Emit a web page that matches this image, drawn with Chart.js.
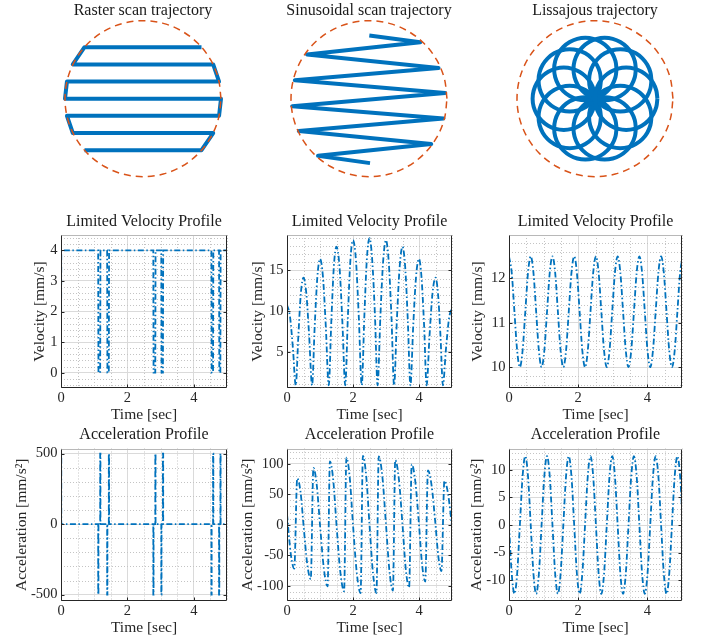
<!DOCTYPE html>
<html>
<head>
<meta charset="utf-8">
<title>Scan trajectories and motion profiles</title>
<script src="https://cdn.jsdelivr.net/npm/chart.js"></script>
<style>
  html, body { margin: 0; padding: 0; background: #fff; }
  body { width: 702px; height: 643px; position: relative; overflow: hidden; }
  canvas { position: absolute; }
</style>
</head>
<body>
<canvas id="pathRaster" width="220" height="190" style="left:33px;top:0"></canvas>
<canvas id="pathSine" width="220" height="190" style="left:259px;top:0"></canvas>
<canvas id="pathLis" width="220" height="190" style="left:485px;top:0"></canvas>
<canvas id="velRaster" width="232" height="230" style="left:0;top:195px"></canvas>
<canvas id="velSine" width="226" height="230" style="left:232px;top:195px"></canvas>
<canvas id="velLis" width="244" height="230" style="left:458px;top:195px"></canvas>
<canvas id="accRaster" width="232" height="218" style="left:0;top:425px"></canvas>
<canvas id="accSine" width="226" height="218" style="left:232px;top:425px"></canvas>
<canvas id="accLis" width="244" height="218" style="left:458px;top:425px"></canvas>
<script>
// ---- trajectories (coordinates in units of the scan radius) ----
const circleX = [1, 0.966, 0.866, 0.707, 0.5, 0.259, 0, -0.259, -0.5, -0.707, -0.866, -0.966,
                 -1, -0.966, -0.866, -0.707, -0.5, -0.259, 0, 0.259, 0.5, 0.707, 0.866, 0.966, 1];
const circleY = [0, 0.259, 0.5, 0.707, 0.866, 0.966, 1, 0.966, 0.866, 0.707, 0.5, 0.259,
                 0, -0.259, -0.5, -0.707, -0.866, -0.966, -1, -0.966, -0.866, -0.707, -0.5, -0.259, 0];

const rasterPathX = [0.75, -0.75, -0.90, 0.90, 0.975, -0.975, -1.0, 1.0, 0.975, -0.975, -0.90, 0.90, 0.75, -0.75];
const rasterPathY = [0.66, 0.66, 0.44, 0.44, 0.22, 0.22, 0, 0, -0.22, -0.22, -0.44, -0.44, -0.66, -0.66];

const sinePathX = [0.004, 0.658, -0.794, 0.892, -0.951, 0.977, -0.985, 0.955, -0.900, 0.798, -0.654, 0.013];
const sinePathY = [0.809, 0.724, 0.567, 0.393, 0.236, 0.074, -0.096, -0.253, -0.414, -0.580, -0.732, -0.826];

const lisLoopX = [0.4, 0.324, 0.124, -0.124, -0.324, -0.4, -0.324, -0.124, 0.124, 0.324];
const lisLoopY = [0, 0.235, 0.38, 0.38, 0.235, 0, -0.235, -0.38, -0.38, -0.235];
const lisLoopRadius = 0.4;

// ---- raster profile events [sec] ----
const rasterStops = [1.12, 1.39, 2.78, 3.02, 4.53, 4.76];
const rasterRestarts = [1.18, 1.44, 2.84, 3.07, 4.58, 4.80];
const rasterSpeed = 4;     // mm/s
const rasterAccel = 500;   // mm/s^2
const profileEnd = 5;      // sec

// ---- sinusoidal scan profiles ----
const sineVelT = [0, 0.09, 0.18, 0.265,
  0.345, 0.42, 0.5, 0.585, 0.67, 0.76,
  0.84, 0.92, 1.0, 1.09, 1.175, 1.265,
  1.345, 1.42, 1.5, 1.59, 1.675, 1.765,
  1.845, 1.92, 2.0, 2.09, 2.175, 2.265,
  2.345, 2.42, 2.5, 2.58, 2.665, 2.745,
  2.83, 2.915, 3.0, 3.08, 3.165, 3.245,
  3.33, 3.415, 3.5, 3.58, 3.66, 3.74,
  3.825, 3.91, 4.0, 4.075, 4.155, 4.23,
  4.32, 4.41, 4.5, 4.575, 4.65, 4.725,
  4.815, 4.91, 5.0];
const sineVelV = [10.8, 9.35, 5.4, 0.9,
  7.05, 12.2, 14.1, 12.2, 7.05, 0.9,
  8.2, 14.2, 16.4, 14.2, 8.2, 0.9,
  8.95, 15.5, 17.9, 15.5, 8.95, 0.9,
  9.35, 16.2, 18.7, 16.2, 9.35, 0.9,
  9.5, 16.4, 18.95, 16.4, 9.5, 0.9,
  9.35, 16.2, 18.7, 16.2, 9.35, 0.9,
  8.95, 15.5, 17.9, 15.5, 8.95, 0.9,
  8.2, 14.2, 16.4, 14.2, 8.2, 0.9,
  7.05, 12.2, 14.1, 12.2, 7.05, 0.9,
  5.25, 9.1, 10.5];

const sineAccT = [0, 0.12, 0.22,
  0.31, 0.41, 0.50, 0.61, 0.72,
  0.80, 0.90, 1.00, 1.115, 1.23,
  1.30, 1.40, 1.50, 1.615, 1.73,
  1.80, 1.90, 2.00, 2.115, 2.23,
  2.30, 2.40, 2.50, 2.605, 2.71,
  2.78, 2.89, 3.00, 3.105, 3.21,
  3.28, 3.39, 3.50, 3.60, 3.70,
  3.78, 3.89, 4.00, 4.095, 4.19,
  4.27, 4.385, 4.50, 4.59, 4.68,
  4.77, 4.88, 5.00];
const sineAccA = [17, -50, -72,
  76, 54, 0, -63, -89,
  93, 66, 0, -71, -101,
  104, 74, 0, -77, -109,
  110, 78, 0, -79, -112,
  113, 80, 0, -79, -112,
  112, 79, 0, -76, -108,
  106, 75, 0, -73, -103,
  99, 70, 0, -66, -93,
  89, 63, 0, -54, -76,
  72, 51, -3];

// ---- Lissajous profiles, sampled every lisStep seconds ----
const lisStep = 0.0785;
const lisVel = [
  12.5, 12.13, 11.25, 10.37, 10.0, 10.37, 11.25, 12.13,
  12.5, 12.13, 11.25, 10.37, 10.0, 10.37, 11.25, 12.13,
  12.5, 12.13, 11.25, 10.37, 10.0, 10.37, 11.25, 12.13,
  12.5, 12.13, 11.25, 10.37, 10.0, 10.37, 11.25, 12.13,
  12.5, 12.13, 11.25, 10.37, 10.0, 10.37, 11.25, 12.13,
  12.5, 12.13, 11.25, 10.37, 10.0, 10.37, 11.25, 12.13,
  12.5, 12.13, 11.25, 10.37, 10.0, 10.37, 11.25, 12.13,
  12.5, 12.13, 11.25, 10.37, 10.0, 10.37, 11.25, 12.13,
  12.5];
const lisAcc = [
  0, -8.84, -12.5, -8.84, 0, 8.84, 12.5, 8.84,
  0, -8.84, -12.5, -8.84, 0, 8.84, 12.5, 8.84,
  0, -8.84, -12.5, -8.84, 0, 8.84, 12.5, 8.84,
  0, -8.84, -12.5, -8.84, 0, 8.84, 12.5, 8.84,
  0, -8.84, -12.5, -8.84, 0, 8.84, 12.5, 8.84,
  0, -8.84, -12.5, -8.84, 0, 8.84, 12.5, 8.84,
  0, -8.84, -12.5, -8.84, 0, 8.84, 12.5, 8.84,
  0, -8.84, -12.5, -8.84, 0, 8.84, 12.5, 8.84,
  0];

// ---- axis ticks ----
const timeTicks = [0, 2, 4];
const rasterVelTicks = [0, 1, 2, 3, 4];
const sineVelTicks = [5, 10, 15];
const lisVelTicks = [10, 11, 12];
const rasterAccTicks = [-500, 0, 500];
const sineAccTicks = [-100, -50, 0, 50, 100];
const lisAccTicks = [-10, -5, 0, 5, 10];

const BLUE = '#0072BD';
const ORANGE = '#D95319';
const INK = '#262626';

Chart.defaults.font.family = "'Liberation Serif', 'Times New Roman', serif";
Chart.defaults.color = INK;
Chart.defaults.animation = false;
Chart.defaults.events = [];
Chart.defaults.plugins.legend.display = false;
Chart.defaults.plugins.tooltip.enabled = false;

const pairs = (xs, ys) => xs.map((x, i) => ({ x: x, y: ys[i] }));

// ---------- top row: scan paths ----------
function boundary() {
  return {
    data: pairs(circleX, circleY), showLine: true, pointRadius: 0,
    borderColor: ORANGE, borderWidth: 1.5, borderDash: [7, 5],
    tension: 0.34, capBezierPoints: false, clip: false
  };
}
function scanLine(points, smooth) {
  return {
    data: points, showLine: true, pointRadius: 0,
    borderColor: BLUE, borderWidth: 4, borderJoinStyle: 'round', borderCapStyle: 'butt',
    tension: smooth ? 0.34 : 0, capBezierPoints: false, clip: false
  };
}
function pathChart(id, title, datasets) {
  new Chart(document.getElementById(id), {
    type: 'scatter',
    data: { datasets: datasets },
    options: {
      responsive: false,
      layout: { padding: { bottom: 13.3 } },
      plugins: {
        title: { display: true, text: title, color: '#1a1a1a',
                 font: { size: 16, weight: 'normal' }, padding: { top: 1.5, bottom: 0 } }
      },
      scales: {
        x: { type: 'linear', display: false, min: -110 / 78, max: 110 / 78 },
        y: { type: 'linear', display: false, min: -1, max: 1 }
      }
    }
  });
}

pathChart('pathRaster', 'Raster scan trajectory',
  [boundary(), scanLine(pairs(rasterPathX, rasterPathY), false)]);
pathChart('pathSine', 'Sinusoidal scan trajectory',
  [boundary(), scanLine(pairs(sinePathX, sinePathY), false)]);

const lisLoops = lisLoopX.map((cx, k) =>
  scanLine(circleX.map((u, j) => ({ x: cx + lisLoopRadius * u, y: lisLoopY[k] + lisLoopRadius * circleY[j] })), true));
pathChart('pathLis', 'Lissajous trajectory', [boundary()].concat(lisLoops));

// ---------- profile plots ----------
function minorValues(scale, step) {
  const out = [];
  const k0 = Math.ceil(scale.min / step - 1e-9), k1 = Math.floor(scale.max / step + 1e-9);
  for (let k = k0; k <= k1; k++) {
    const v = k * step;
    if (!scale.ticks.some(t => Math.abs(t.value - v) < step * 1e-3)) out.push(v);
  }
  return out;
}

// dotted minor grid under the data, axes box with inward ticks above it
const frame = {
  id: 'frame',
  beforeDatasetsDraw(chart, args, opts) {
    const { ctx, chartArea: a, scales: { x, y } } = chart;
    ctx.save();
    ctx.strokeStyle = '#c4c4c4';
    ctx.lineWidth = 1;
    ctx.setLineDash([1, 2]);
    ctx.beginPath();
    minorValues(x, opts.xMinor).forEach(v => {
      const p = Math.round(x.getPixelForValue(v)) + 0.5;
      ctx.moveTo(p, a.top); ctx.lineTo(p, a.bottom);
    });
    minorValues(y, opts.yMinor).forEach(v => {
      const p = Math.round(y.getPixelForValue(v)) + 0.5;
      ctx.moveTo(a.left, p); ctx.lineTo(a.right, p);
    });
    ctx.stroke();
    ctx.restore();
  },
  afterDatasetsDraw(chart) {
    const { ctx, chartArea: a, scales: { x, y } } = chart;
    const L = Math.round(a.left) + 0.5, R = Math.round(a.right) - 0.5;
    const T = Math.round(a.top) + 0.5, B = Math.round(a.bottom) - 0.5;
    ctx.save();
    ctx.lineWidth = 1;
    ctx.strokeStyle = '#b8b8b8';
    ctx.beginPath(); ctx.moveTo(L, T); ctx.lineTo(R, T); ctx.stroke();
    ctx.strokeStyle = INK;
    ctx.beginPath();
    ctx.moveTo(L, T); ctx.lineTo(L, B); ctx.lineTo(R, B); ctx.lineTo(R, T);
    y.ticks.forEach(t => {
      const p = Math.round(y.getPixelForValue(t.value)) + 0.5;
      ctx.moveTo(L, p); ctx.lineTo(L + 3, p);
      ctx.moveTo(R, p); ctx.lineTo(R - 3, p);
    });
    x.ticks.forEach(t => {
      const p = Math.round(x.getPixelForValue(t.value)) + 0.5;
      ctx.moveTo(p, B); ctx.lineTo(p, B - 3);
    });
    ctx.stroke();
    ctx.restore();
  }
};

const columns = [
  { yWidth: 61, padRight: 5 },
  { yWidth: 55, padRight: 6 },
  { yWidth: 51, padRight: 20 }
];
const rows = {
  vel: { title: 'Limited Velocity Profile', yTitle: 'Velocity [mm/s]', titlePad: { top: 17.4, bottom: 3.4 },
         xHeight: 37, xTitlePad: 0.7, yTitlePad: [30.7, 16.5, 10.7] },
  acc: { title: 'Acceleration Profile', yTitle: 'Acceleration [mm/s²]', titlePad: { top: 0.4, bottom: 3.9 },
         xHeight: 42, xTitlePad: 5.4, yTitlePad: [12.4, 6.4, 9.2] }
};

function profileChart(id, row, col, points, y) {
  const r = rows[row], c = columns[col];
  const tickFont = { size: 14.5 };
  new Chart(document.getElementById(id), {
    type: 'scatter',
    data: {
      datasets: [{
        data: points, showLine: true, pointRadius: 0,
        borderColor: BLUE, borderWidth: 1.8, borderDash: [6, 2.5, 1.5, 2.5],
        tension: 0, cubicInterpolationMode: y.smooth ? 'monotone' : 'default'
      }]
    },
    options: {
      responsive: false,
      layout: { padding: { left: 0, right: c.padRight, top: 0, bottom: 0 } },
      plugins: {
        // title sits over the plot box only, not the whole canvas
        title: { display: true, fullSize: false, text: r.title, color: '#1a1a1a',
                 font: { size: 16, weight: 'normal' }, padding: r.titlePad },
        frame: { xMinor: 0.5, yMinor: y.minor }
      },
      scales: {
        x: {
          type: 'linear', min: 0, max: profileEnd,
          afterBuildTicks: ax => { ax.ticks = timeTicks.map(v => ({ value: v })); },
          afterFit: ax => { ax.height = r.xHeight; },
          grid: { color: '#dadada', drawTicks: false },
          border: { display: false },
          ticks: { padding: 1.3, font: tickFont, color: INK, maxRotation: 0, autoSkip: false },
          title: { display: true, text: 'Time [sec]', color: INK, font: { size: 15.5 },
                   padding: { top: 0, bottom: r.xTitlePad } }
        },
        y: {
          type: 'linear', min: y.min, max: y.max,
          afterBuildTicks: ax => { ax.ticks = y.ticks.map(v => ({ value: v })); },
          afterFit: ax => { ax.width = c.yWidth; },
          grid: { color: '#dadada', drawTicks: false },
          border: { display: false },
          ticks: { padding: 3.5, font: tickFont, color: INK, autoSkip: false },
          title: { display: true, text: r.yTitle, color: INK, font: { size: 15.5 },
                   padding: { top: r.yTitlePad[col], bottom: 0 } }
        }
      }
    },
    plugins: [frame]
  });
}

// raster: constant speed with stops at the end of every line
const ramp = rasterSpeed / rasterAccel;
const rasterVel = [{ x: 0, y: 0 }, { x: ramp, y: rasterSpeed }];
const rasterAcc = [{ x: 0, y: 0 }, { x: 0, y: rasterAccel }, { x: ramp, y: rasterAccel }, { x: ramp, y: 0 }];
rasterStops.forEach((s, i) => {
  const g = rasterRestarts[i];
  rasterVel.push({ x: s, y: rasterSpeed }, { x: s + ramp, y: 0 }, { x: g, y: 0 }, { x: g + ramp, y: rasterSpeed });
  rasterAcc.push({ x: s, y: 0 }, { x: s, y: -rasterAccel }, { x: s + ramp, y: -rasterAccel }, { x: s + ramp, y: 0 },
                 { x: g, y: 0 }, { x: g, y: rasterAccel }, { x: g + ramp, y: rasterAccel }, { x: g + ramp, y: 0 });
});
rasterVel.push({ x: profileEnd, y: rasterSpeed });
rasterAcc.push({ x: profileEnd, y: 0 });

const lisTime = lisVel.map((v, i) => i * lisStep);

profileChart('velRaster', 'vel', 0, rasterVel, { min: -0.5, max: 4.5, ticks: rasterVelTicks, minor: 0.2 });
profileChart('velSine', 'vel', 1, pairs(sineVelT, sineVelV), { min: 0.57, max: 19.34, ticks: sineVelTicks, minor: 1, smooth: true });
profileChart('velLis', 'vel', 2, pairs(lisTime, lisVel), { min: 9.53, max: 12.98, ticks: lisVelTicks, minor: 0.2, smooth: true });
profileChart('accRaster', 'acc', 0, rasterAcc, { min: -545, max: 536, ticks: rasterAccTicks, minor: 100 });
profileChart('accSine', 'acc', 1, pairs(sineAccT, sineAccA), { min: -125, max: 125, ticks: sineAccTicks, minor: 10, smooth: true });
profileChart('accLis', 'acc', 2, pairs(lisTime, lisAcc), { min: -13.8, max: 13.9, ticks: lisAccTicks, minor: 1, smooth: true });
</script>
</body>
</html>
